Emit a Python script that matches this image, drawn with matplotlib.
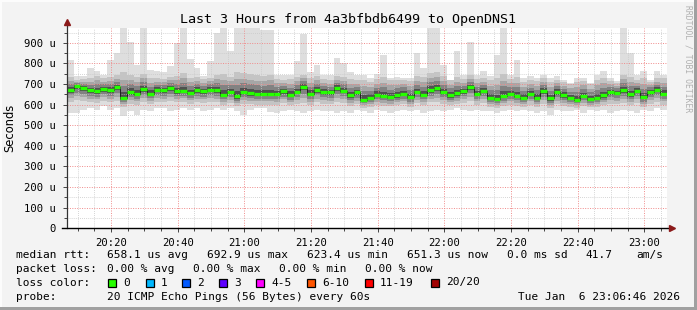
import numpy as np
import matplotlib
matplotlib.use("Agg")
import matplotlib.pyplot as plt
import matplotlib.dates as mdates
from matplotlib.patches import Rectangle
from matplotlib.ticker import MultipleLocator, FuncFormatter
from datetime import datetime, timedelta

# 2 minute steps, values in microseconds
start = datetime(2026, 1, 6, 20, 6, 46)
end = datetime(2026, 1, 6, 23, 6, 46)
step = timedelta(minutes=2)

med = [670, 689, 680, 669, 665, 674, 669, 684, 632, 660, 652, 675, 653, 673, 669,
       680, 665, 668, 656, 670, 665, 673, 669, 648, 662, 640, 661, 656, 652, 652,
       653, 652, 665, 648, 662, 687, 652, 671, 661, 660, 680, 668, 645, 660, 624,
       632, 648, 643, 637, 645, 652, 635, 661, 648, 670, 680, 660, 645, 655, 665,
       684, 652, 668, 632, 627, 640, 652, 643, 632, 652, 632, 665, 630, 662, 645,
       632, 624, 643, 627, 630, 645, 660, 658, 671, 650, 668, 636, 661, 673, 652]

top = [818, 740, 737, 780, 761, 745, 818, 850, 970, 906, 794, 970, 770, 761, 760,
       790, 900, 970, 820, 780, 740, 810, 950, 970, 860, 970, 970, 970, 970, 960,
       960, 745, 745, 745, 810, 942, 760, 794, 745, 745, 826, 800, 760, 745, 745,
       729, 750, 842, 729, 735, 729, 729, 850, 777, 970, 970, 794, 715, 858, 745,
       906, 745, 761, 740, 842, 970, 745, 818, 729, 737, 729, 745, 729, 737, 720,
       705, 729, 729, 705, 745, 761, 729, 713, 970, 850, 745, 761, 720, 761, 745]

bot = [560, 560, 576, 584, 576, 592, 576, 584, 544, 568, 552, 576, 568, 584, 584,
       570, 576, 584, 576, 584, 568, 576, 584, 576, 584, 568, 552, 576, 584, 584,
       566, 560, 570, 576, 568, 560, 570, 576, 570, 568, 560, 570, 560, 576, 570,
       560, 576, 570, 560, 568, 576, 570, 576, 560, 568, 576, 570, 576, 584, 576,
       570, 576, 568, 570, 560, 568, 576, 570, 576, 568, 560, 568, 552, 576, 570,
       568, 576, 560, 576, 570, 576, 560, 568, 576, 570, 560, 576, 568, 584, 576]

hi2 = [735, 720, 725, 730, 740, 728, 735, 745, 760, 745, 735, 750, 730, 728, 725,
       735, 740, 755, 730, 735, 725, 730, 745, 750, 735, 760, 755, 750, 745, 740,
       745, 725, 720, 725, 735, 745, 730, 740, 725, 720, 740, 735, 725, 720, 718,
       712, 725, 735, 718, 720, 722, 715, 740, 735, 755, 760, 738, 720, 735, 725,
       745, 725, 730, 718, 728, 750, 725, 735, 712, 720, 715, 728, 712, 722, 710,
       700, 712, 715, 700, 720, 730, 715, 705, 745, 735, 722, 730, 712, 728, 730]

lo2 = [615, 622, 618, 612, 608, 620, 612, 618, 590, 605, 600, 612, 605, 615, 612,
       618, 612, 615, 605, 612, 608, 615, 612, 600, 608, 592, 605, 602, 600, 600,
       600, 598, 608, 596, 605, 610, 598, 612, 605, 602, 615, 608, 595, 602, 585,
       590, 600, 595, 592, 598, 602, 590, 608, 598, 612, 615, 605, 596, 602, 610,
       620, 600, 610, 590, 585, 595, 600, 595, 590, 600, 588, 605, 585, 602, 595,
       590, 585, 595, 588, 590, 598, 605, 602, 610, 598, 608, 590, 605, 612, 600]

loss_labels = ["0", "1", "2", "3", "4-5", "6-10", "11-19", "20/20"]
loss_colors = ["#26ff00", "#00b8ff", "#0059ff", "#5e00ff", "#ff00ff",
               "#ff5500", "#ff0000", "#a10000"]

title = "Last 3 Hours from 4a3bfbdb6499 to OpenDNS1"
mono = "DejaVu Sans Mono"

W, H = 697, 310


def fx(px):
    return px / W


def fy(py):
    return 1 - py / H


fig = plt.figure(figsize=(6.97, 3.10), dpi=100, facecolor="#f3f3f3")
ax = fig.add_axes([fx(67), fy(228.3), fx(667) - fx(67), fy(28) - fy(228.3)])
ax.set_facecolor("white")

t = [start + i * step for i in range(len(med) + 1)]
x = mdates.date2num(t)


def ext(a):
    a = np.array(a, dtype=float)
    return np.append(a, a[-1])


m = ext(med)
ax.fill_between(x, ext(bot), ext(top), step="post", color="#dedede", lw=0, zorder=1)
ax.fill_between(x, ext(lo2), ext(hi2), step="post", color="#c4c4c4", lw=0, zorder=1.1)
shades = [(0.7, "#a6a6a6"), (0.45, "#828282"), (0.22, "#505050")]
for f, c in shades:
    ax.fill_between(x, m - f * (m - ext(lo2)), m + f * (ext(hi2) - m),
                    step="post", color=c, lw=0, zorder=1.2)

ax.step(x, m, where="post", color="#222222", lw=0.7, zorder=3)
ax.hlines(med, x[:-1], x[1:], color=loss_colors[0], lw=2.4, zorder=4)

ax.set_xlim(mdates.date2num(start), mdates.date2num(end))
ax.set_ylim(0, 972)

ax.xaxis.set_major_locator(mdates.MinuteLocator(byminute=[0, 20, 40]))
ax.xaxis.set_minor_locator(mdates.MinuteLocator(byminute=range(0, 60, 5)))
ax.xaxis.set_major_formatter(mdates.DateFormatter("%H:%M"))
ax.yaxis.set_major_locator(MultipleLocator(100))
ax.yaxis.set_minor_locator(MultipleLocator(50))
ax.yaxis.set_major_formatter(FuncFormatter(lambda v, p: "0" if v == 0 else f"{v:.0f} u"))

ax.set_axisbelow(False)
dots = (0, (1, 1.5))
ax.grid(which="minor", color="#c8c8c8", ls=dots, lw=0.6)
ax.grid(which="major", color="#f08a8a", ls=dots, lw=0.7)

for s in ax.spines.values():
    s.set_visible(False)
ax.tick_params(which="both", direction="out", color="#444444", width=0.7)
ax.tick_params(which="major", length=3)
ax.tick_params(which="minor", length=2)
ax.tick_params(axis="y", pad=5, labelsize=7.6)
ax.tick_params(axis="x", pad=4, labelsize=7.6)
for lab in ax.get_xticklabels() + ax.get_yticklabels():
    lab.set_family(mono)

# axis lines with arrows
ax.plot([0, 0], [0, 1.03], transform=ax.transAxes, color="#333333", lw=0.9,
        clip_on=False, zorder=5)
ax.plot([-0.008, 1.004], [0, 0], transform=ax.transAxes, color="black", lw=1.0,
        clip_on=False, zorder=5)
ax.plot([0], [1.03], marker="^", ms=4.5, color="#8b1a1a", transform=ax.transAxes,
        clip_on=False, zorder=6)
ax.plot([1.008], [0], marker=">", ms=4.5, color="#8b1a1a", transform=ax.transAxes,
        clip_on=False, zorder=6)

fig.text(fx(10), fy(128), "Seconds", rotation=90, ha="center", va="center",
         fontsize=8.3, family="DejaVu Sans")
fig.text(0.5, fy(19), title, ha="center", va="center", fontsize=9.6, family=mono)
fig.text(fx(688), fy(59), "RRDTOOL / TOBI OETIKER", rotation=270, ha="center",
         va="center", fontsize=5.8, family=mono, color="#b0b0b0")

# legend
fs = 8.0
rows = [
    (255, [(16, "median rtt:"), (107, "658.1 us avg"), (207, "692.9 us max"),
           (307, "623.4 us min"), (407, "651.3 us now"), (507, "0.0 ms sd"),
           (585, "41.7"), (636, "am/s")]),
    (268.5, [(16, "packet loss:"), (107, "0.00 % avg"), (193, "0.00 % max"),
             (279, "0.00 % min"), (365, "0.00 % now")]),
    (282.5, [(16, "loss color:")]),
    (296.5, [(16, "probe:"), (107, "20 ICMP Echo Pings (56 Bytes) every 60s")]),
]
for yy, items in rows:
    for xx, s in items:
        fig.text(fx(xx), fy(yy), s, ha="left", va="center", fontsize=fs, family=mono)
fig.text(fx(680), fy(296.5), "Tue Jan  6 23:06:46 2026", ha="right", va="center",
         fontsize=fs, family=mono)

box_x = [108, 146, 182, 219, 256, 307, 365, 431]
for bx, lab, col in zip(box_x, loss_labels, loss_colors):
    fig.add_artist(Rectangle((fx(bx), fy(286.5)), 8 / W, 8 / H, transform=fig.transFigure,
                             facecolor=col, edgecolor="black", lw=0.9))
    fig.text(fx(bx + 15), fy(282.5), lab, ha="left", va="center", fontsize=fs, family=mono)

# frame
fig.add_artist(Rectangle((0, 0), 1, 3 / H, transform=fig.transFigure,
                         facecolor="#a0a0a0", lw=0))
fig.add_artist(Rectangle((1 - 3 / W, 0), 3 / W, 1, transform=fig.transFigure,
                         facecolor="#a0a0a0", lw=0))
fig.add_artist(Rectangle((0, 1 - 2 / H), 1 - 3 / W, 2 / H, transform=fig.transFigure,
                         facecolor="#fcfcfc", lw=0))
fig.add_artist(Rectangle((0, 3 / H), 2 / W, 1 - 5 / H, transform=fig.transFigure,
                         facecolor="#fcfcfc", lw=0))

fig.savefig("out.png", dpi=100, facecolor=fig.get_facecolor())
